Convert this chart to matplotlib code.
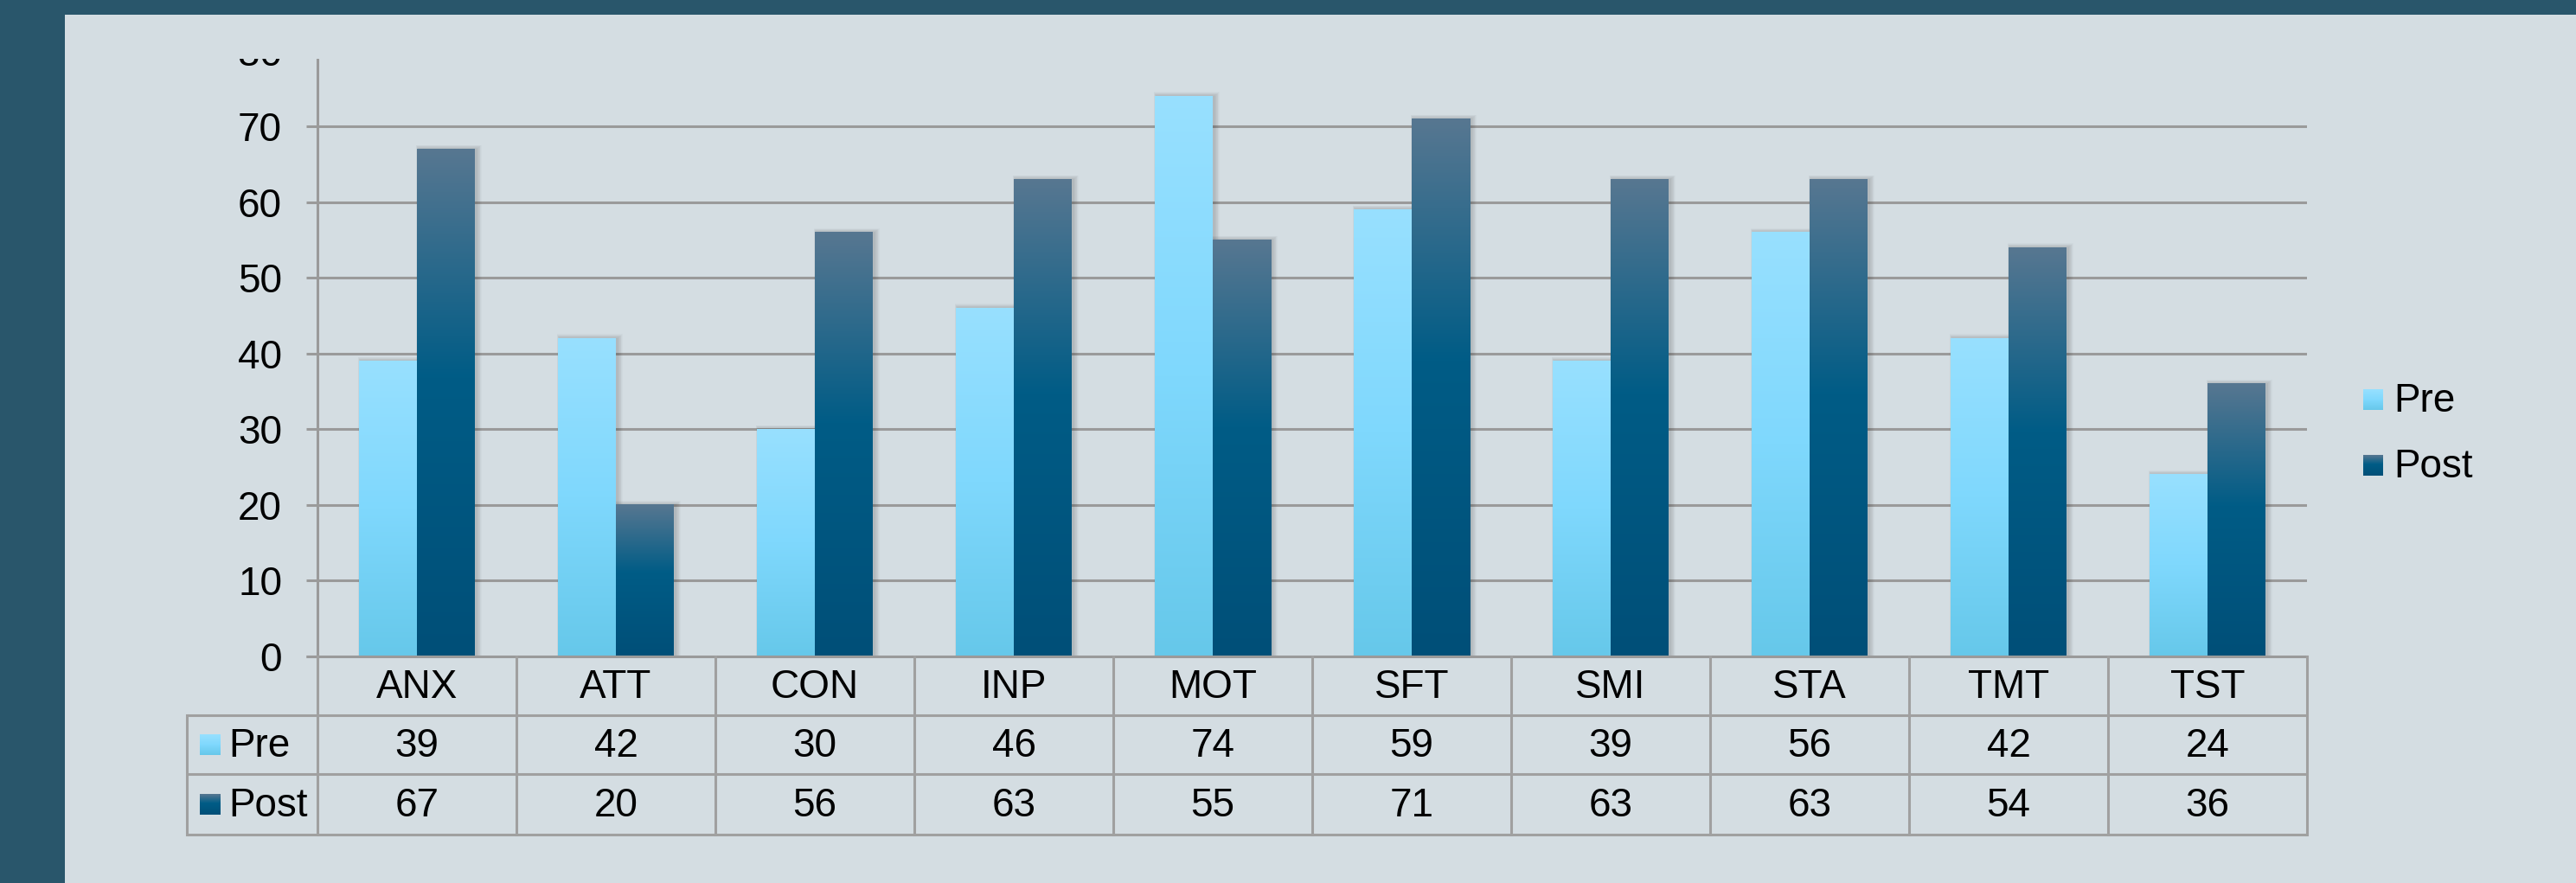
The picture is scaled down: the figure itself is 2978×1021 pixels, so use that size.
import numpy as np
import matplotlib
matplotlib.use("Agg")
import matplotlib.pyplot as plt
from matplotlib.patches import Rectangle
from matplotlib.colors import to_rgb

# ---------------- data ----------------
categories = ["ANX", "ATT", "CON", "INP", "MOT", "SFT", "SMI", "STA", "TMT", "TST"]
series_names = ["Pre", "Post"]
pre_values = [39, 42, 30, 46, 74, 59, 39, 56, 42, 24]
post_values = [67, 20, 56, 63, 55, 71, 63, 63, 54, 36]
y_ticks = [0, 10, 20, 30, 40, 50, 60, 70, 80]

# ---------------- style ----------------
W, H = 2978, 1021
DPI = 100
BORDER = "#29566B"
BG = "#D4DDE2"
GRID = "#9A9A9A"
TBL = "#A0A0A0"
FONT = ["Liberation Sans", "DejaVu Sans"]
FS = 33
plt.rcParams["font.family"] = FONT

pre_stops = [(0.0, "#98E0FF"), (0.5, "#7FD8FD"), (1.0, "#66C8EA")]
post_stops = [(0.0, "#577791"), (0.45, "#005C86"), (1.0, "#004F78")]


def gradient(stops, n=256):
    t = np.linspace(0, 1, n)
    pos = [s[0] for s in stops]
    cols = np.array([to_rgb(s[1]) for s in stops])
    out = np.stack([np.interp(t, pos, cols[:, c]) for c in range(3)], axis=-1)
    return out.reshape(n, 1, 3)


fig = plt.figure(figsize=(W / DPI, H / DPI), dpi=DPI)
fig.patch.set_facecolor(BORDER)

# layout in pixels
ax_left, ax_right = 367, 2667
y0_px, y80_px = 759, 58.6
col_w = (ax_right - ax_left) / len(categories)

# inner background panel (full figure overlay axes in pixel coords)
ov_bg = fig.add_axes([0, 0, 1, 1], zorder=-1)
ov_bg.set_xlim(0, W)
ov_bg.set_ylim(H, 0)
ov_bg.axis("off")
ov_bg.add_patch(Rectangle((75, 17), W - 75, H - 17, facecolor=BG, edgecolor="none"))

# main axes
ax = fig.add_axes([ax_left / W, 1 - y0_px / H, (ax_right - ax_left) / W, (y0_px - y80_px) / H], zorder=1)
ax.patch.set_alpha(0)
n = len(categories)
x = np.arange(n) + 0.5
bw = 67 / col_w
ax.set_xlim(0, n)
ax.set_ylim(0, 80)

for spine in ["top", "right", "bottom"]:
    ax.spines[spine].set_visible(False)
ax.spines["left"].set_color(GRID)
ax.spines["left"].set_linewidth(2.2)
ax.set_yticks(y_ticks)
ax.set_yticklabels([str(v) for v in y_ticks], fontsize=FS, family=FONT)
ax.tick_params(axis="y", length=9.5, width=2.2, color=GRID, pad=20)
ax.set_xticks([])
for v in y_ticks[1:]:
    ax.axhline(v, color=GRID, lw=2.2, zorder=1)

bars_pre = ax.bar(x - bw / 2, pre_values, width=bw, color="none", edgecolor="none", zorder=3)
bars_post = ax.bar(x + bw / 2, post_values, width=bw, color="none", edgecolor="none", zorder=3)

px_x = 1.0 / col_w
px_y = 80.0 / (y0_px - y80_px)
# soft shadows
for bars in (bars_pre, bars_post):
    for b in bars:
        bx, by, bwid, bh = b.get_x(), b.get_y(), b.get_width(), b.get_height()
        for k in range(1, 9):
            ax.add_patch(Rectangle((bx - k * 0.4 * px_x + 2 * px_x, 0), bwid + k * 1.1 * px_x,
                                   bh + k * 0.6 * px_y, facecolor="#000000", alpha=0.018,
                                   edgecolor="none", zorder=2))

for bars, stops in ((bars_pre, pre_stops), (bars_post, post_stops)):
    img = gradient(stops)
    for b in bars:
        bx, bwid, bh = b.get_x(), b.get_width(), b.get_height()
        ax.imshow(img, extent=[bx, bx + bwid, 0, bh], aspect="auto", origin="upper",
                  interpolation="bilinear", zorder=3)
ax.set_xlim(0, n)
ax.set_ylim(0, 80)
ax.set_aspect("auto")

# overlay axes: table, legend, top clip
ov = fig.add_axes([0, 0, 1, 1], zorder=2)
ov.set_xlim(0, W)
ov.set_ylim(H, 0)
ov.axis("off")
ov.patch.set_alpha(0)

# hide the top of the plot (as in the reference, clipped "80")
ov.add_patch(Rectangle((75, 17), W - 75, 68 - 17, facecolor=BG, edgecolor="none", zorder=10))

# table
r0, r1, r2, r3 = 759, 827, 895, 965
tbl_left = 216
lw = 2.2
ov.plot([354, ax_right], [r0, r0], color=GRID, lw=lw, solid_capstyle="butt")
for yy in (r1, r2, r3):
    ov.plot([tbl_left, ax_right], [yy, yy], color=TBL, lw=lw, solid_capstyle="butt")
ov.plot([tbl_left, tbl_left], [r1, r3], color=TBL, lw=lw)
for i in range(n + 1):
    xx = ax_left + i * col_w
    ov.plot([xx, xx], [r0, r3], color=TBL, lw=lw)

for i, cat in enumerate(categories):
    cx = ax_left + (i + 0.5) * col_w
    ov.text(cx, (r0 + r1) / 2 + 2, cat, ha="center", va="center", fontsize=FS, family=FONT)
    ov.text(cx, (r1 + r2) / 2 + 2, str(pre_values[i]), ha="center", va="center", fontsize=FS, family=FONT)
    ov.text(cx, (r2 + r3) / 2 + 2, str(post_values[i]), ha="center", va="center", fontsize=FS, family=FONT)

# row headers with color keys
for (ycen, name, stops) in (((r1 + r2) / 2, series_names[0], pre_stops),
                            ((r2 + r3) / 2, series_names[1], post_stops)):
    ov.imshow(gradient(stops), extent=[231, 255, ycen + 12, ycen - 12], aspect="auto",
              origin="upper", interpolation="bilinear", zorder=5)
    ov.text(264, ycen + 2, name, ha="left", va="center", fontsize=FS, family=FONT)

# legend
for (ycen, name, stops) in ((462, series_names[0], pre_stops), (538, series_names[1], post_stops)):
    ov.imshow(gradient(stops), extent=[2732, 2755, ycen + 12, ycen - 12], aspect="auto",
              origin="upper", interpolation="bilinear", zorder=5)
    ov.text(2767, ycen + 2, name, ha="left", va="center", fontsize=FS, family=FONT)

ov.set_xlim(0, W)
ov.set_ylim(H, 0)
ov.set_aspect("auto")

fig.savefig("out.png", dpi=DPI, facecolor=fig.get_facecolor())
